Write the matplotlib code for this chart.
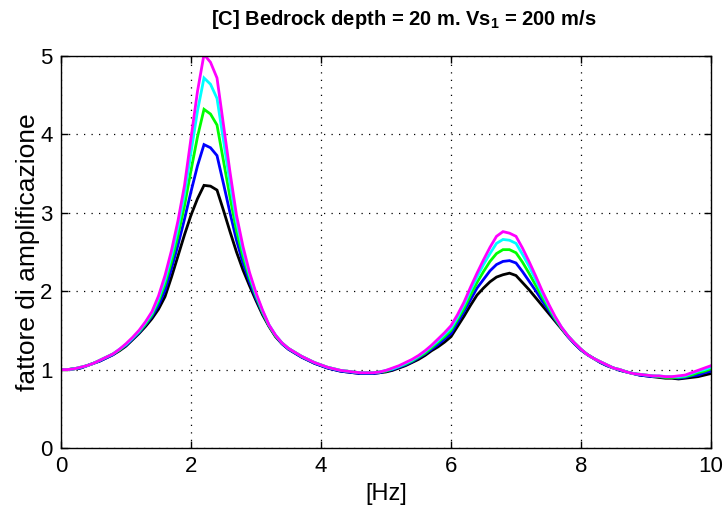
import numpy as np
import matplotlib
matplotlib.use("Agg")
import matplotlib.pyplot as plt

freq = [round(0.1 * i, 1) for i in range(101)]

black = [1.00, 1.00, 1.01, 1.02, 1.05, 1.08, 1.11, 1.15, 1.19, 1.24,
         1.30, 1.38, 1.46, 1.55, 1.65, 1.77, 1.93, 2.18, 2.45, 2.72,
         2.97, 3.18, 3.35, 3.34, 3.29, 3.03, 2.76, 2.50, 2.27, 2.07,
         1.88, 1.70, 1.55, 1.42, 1.33, 1.26, 1.21, 1.16, 1.12, 1.08,
         1.05, 1.02, 1.00, 0.98, 0.97, 0.96, 0.95, 0.95, 0.95, 0.96,
         0.97, 0.99, 1.02, 1.05, 1.09, 1.13, 1.18, 1.24, 1.29, 1.35,
         1.42, 1.55, 1.68, 1.82, 1.95, 2.04, 2.12, 2.18, 2.21, 2.23,
         2.20, 2.11, 2.02, 1.92, 1.82, 1.72, 1.62, 1.52, 1.42, 1.33,
         1.25, 1.19, 1.14, 1.09, 1.05, 1.02, 0.99, 0.97, 0.95, 0.93,
         0.92, 0.91, 0.90, 0.89, 0.89, 0.88, 0.89, 0.90, 0.91, 0.93,
         0.95]

blue = [1.00, 1.00, 1.01, 1.02, 1.05, 1.08, 1.11, 1.15, 1.19, 1.25,
        1.31, 1.39, 1.47, 1.57, 1.68, 1.82, 2.01, 2.29, 2.59, 2.92,
        3.27, 3.60, 3.87, 3.83, 3.73, 3.37, 3.00, 2.65, 2.36, 2.12,
        1.91, 1.72, 1.56, 1.43, 1.33, 1.26, 1.21, 1.16, 1.12, 1.08,
        1.05, 1.02, 1.00, 0.98, 0.97, 0.96, 0.95, 0.95, 0.95, 0.96,
        0.98, 1.00, 1.03, 1.06, 1.10, 1.15, 1.20, 1.26, 1.32, 1.39,
        1.46, 1.60, 1.74, 1.89, 2.04, 2.15, 2.26, 2.34, 2.38, 2.39,
        2.36, 2.25, 2.13, 2.01, 1.88, 1.76, 1.64, 1.53, 1.42, 1.33,
        1.25, 1.19, 1.14, 1.09, 1.05, 1.02, 0.99, 0.97, 0.95, 0.93,
        0.92, 0.91, 0.91, 0.90, 0.90, 0.89, 0.90, 0.92, 0.93, 0.96,
        0.98]

green = [1.00, 1.00, 1.01, 1.03, 1.05, 1.08, 1.12, 1.16, 1.20, 1.25,
         1.32, 1.40, 1.48, 1.58, 1.70, 1.87, 2.09, 2.38, 2.71, 3.09,
         3.54, 3.97, 4.32, 4.26, 4.12, 3.66, 3.20, 2.77, 2.44, 2.17,
         1.94, 1.73, 1.56, 1.43, 1.34, 1.27, 1.22, 1.17, 1.13, 1.09,
         1.06, 1.03, 1.01, 0.99, 0.98, 0.97, 0.96, 0.96, 0.96, 0.97,
         0.98, 1.01, 1.04, 1.07, 1.11, 1.16, 1.21, 1.28, 1.35, 1.42,
         1.50, 1.64, 1.78, 1.95, 2.11, 2.25, 2.38, 2.48, 2.53, 2.53,
         2.49, 2.37, 2.23, 2.08, 1.93, 1.79, 1.65, 1.53, 1.43, 1.34,
         1.26, 1.19, 1.14, 1.10, 1.06, 1.02, 1.00, 0.97, 0.95, 0.94,
         0.93, 0.92, 0.91, 0.90, 0.90, 0.90, 0.91, 0.93, 0.96, 0.98,
         1.01]

cyan = [1.00, 1.00, 1.01, 1.03, 1.05, 1.08, 1.12, 1.16, 1.20, 1.26,
        1.32, 1.40, 1.49, 1.60, 1.72, 1.91, 2.15, 2.46, 2.82, 3.24,
        3.77, 4.30, 4.72, 4.64, 4.46, 3.92, 3.38, 2.89, 2.52, 2.21,
        1.96, 1.75, 1.57, 1.44, 1.34, 1.27, 1.22, 1.17, 1.13, 1.09,
        1.06, 1.03, 1.01, 0.99, 0.98, 0.97, 0.96, 0.96, 0.96, 0.97,
        0.99, 1.01, 1.04, 1.08, 1.12, 1.17, 1.23, 1.30, 1.37, 1.45,
        1.53, 1.67, 1.83, 2.01, 2.18, 2.34, 2.48, 2.61, 2.66, 2.65,
        2.61, 2.47, 2.32, 2.15, 1.98, 1.82, 1.67, 1.54, 1.43, 1.34,
        1.26, 1.19, 1.14, 1.10, 1.06, 1.02, 1.00, 0.97, 0.95, 0.94,
        0.93, 0.92, 0.92, 0.91, 0.91, 0.91, 0.92, 0.95, 0.98, 1.00,
        1.03]

magenta = [1.00, 1.00, 1.01, 1.03, 1.05, 1.08, 1.12, 1.16, 1.20, 1.26,
           1.33, 1.41, 1.50, 1.61, 1.74, 1.94, 2.20, 2.52, 2.90, 3.35,
           3.95, 4.55, 5.02, 4.92, 4.72, 4.12, 3.52, 2.97, 2.57, 2.24,
           1.98, 1.76, 1.57, 1.44, 1.34, 1.27, 1.22, 1.17, 1.13, 1.09,
           1.06, 1.03, 1.01, 0.99, 0.98, 0.97, 0.96, 0.96, 0.96, 0.97,
           0.99, 1.02, 1.05, 1.09, 1.13, 1.18, 1.24, 1.31, 1.39, 1.47,
           1.56, 1.70, 1.86, 2.05, 2.23, 2.40, 2.56, 2.70, 2.76, 2.74,
           2.70, 2.55, 2.38, 2.20, 2.01, 1.84, 1.68, 1.54, 1.43, 1.34,
           1.26, 1.19, 1.14, 1.10, 1.06, 1.02, 1.00, 0.97, 0.95, 0.94,
           0.93, 0.92, 0.92, 0.91, 0.91, 0.92, 0.93, 0.96, 0.99, 1.02,
           1.05]

series = [black, blue, green, cyan, magenta]
colors = ["#000000", "#0000ff", "#00ff00", "#00ffff", "#ff00ff"]

xticks = [0, 2, 4, 6, 8, 10]
yticks = [0, 1, 2, 3, 4, 5]

plt.rcParams['font.family'] = ['Liberation Sans', 'DejaVu Sans']

fig = plt.figure(figsize=(7.24, 5.11), dpi=100)
ax = fig.add_axes([61/724, 63/511, 650/724, 392/511])

for ys, c in zip(series, colors):
    ax.plot(freq, ys, color=c, lw=2.0, solid_joinstyle='miter', clip_on=True)

ax.set_xlim(0, 10)
ax.set_ylim(0, 5)
ax.set_xticks(xticks)
ax.set_yticks(yticks)
ax.tick_params(direction='in', length=5, width=1, labelsize=16,
               top=True, right=True, pad=6)
ax.grid(True, color='black', linestyle=(0, (1, 5)), linewidth=0.9)
for sp in ax.spines.values():
    sp.set_linewidth(1.0)
    sp.set_color('black')

ax.set_xlabel('[Hz]', fontsize=17, labelpad=4)
ax.set_ylabel('fattore di amplificazione', fontsize=19, labelpad=0)
ax.set_title(r'[C] Bedrock depth = 20 m. Vs$_{\mathregular{1}}$ = 200 m/s',
             fontsize=14.5, fontweight='bold', pad=22, x=0.528)

fig.savefig('out.png', dpi=100)
